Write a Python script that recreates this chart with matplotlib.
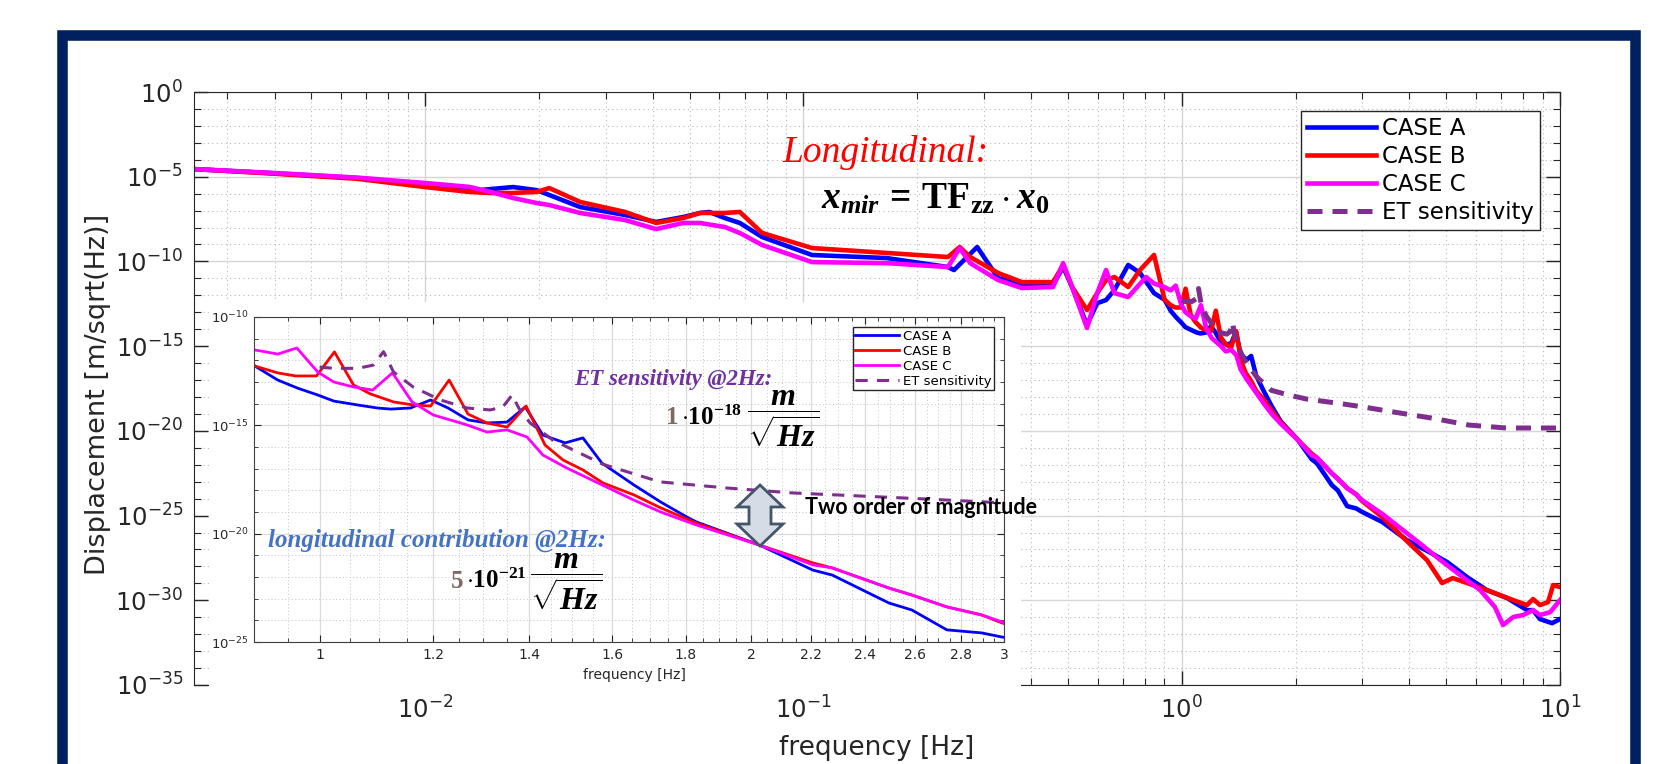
import numpy as np
import matplotlib
matplotlib.use('Agg')
import matplotlib.pyplot as plt
from matplotlib.patches import Rectangle, Polygon
from matplotlib.ticker import FixedLocator, FixedFormatter, NullFormatter

plt.rcParams['font.family'] = ['DejaVu Sans']
plt.rcParams['axes.unicode_minus'] = False
# формулы - жирный шрифт с засечками
plt.rcParams['mathtext.fontset'] = 'custom'
plt.rcParams['mathtext.rm'] = 'Liberation Serif:bold'
plt.rcParams['mathtext.it'] = 'Liberation Serif:italic:bold'
plt.rcParams['mathtext.bf'] = 'Liberation Serif:bold'

freq_a = [0.00245, 0.00385, 0.0066, 0.0100, 0.0131, 0.0149, 0.0171, 0.0197, 0.0213, 0.0257,
          0.0338, 0.0408, 0.0481, 0.0533, 0.0564, 0.0620, 0.0679, 0.0778, 0.1054, 0.166,
          0.241, 0.250, 0.288, 0.327, 0.378, 0.457, 0.486, 0.513, 0.562, 0.598,
          0.631, 0.664, 0.722, 0.776, 0.845, 0.901, 0.935, 0.965, 0.997, 1.023,
          1.063, 1.097, 1.121, 1.157, 1.195, 1.229, 1.269, 1.308, 1.351, 1.391,
          1.431, 1.483, 1.526, 1.573, 1.656, 1.729, 1.803, 1.831, 2.025, 2.207,
          2.277, 2.494, 2.587, 2.737, 2.894, 2.990, 3.39, 3.94, 4.56, 5.03,
          5.68, 6.41, 7.25, 8.18, 8.49, 8.85, 9.53, 10.0]
log_a = [-4.55, -4.78, -5.08, -5.45, -5.84, -5.73, -5.61, -5.79, -6.08, -6.79,
         -7.26, -7.67, -7.38, -7.14, -7.08, -7.44, -7.73, -8.56, -9.62, -9.80,
         -10.33, -10.51, -9.15, -10.98, -11.39, -11.39, -10.33, -11.50, -13.75, -12.46,
         -12.28, -11.69, -10.21, -10.68, -11.87, -12.26, -12.91, -13.28, -13.60, -13.88,
         -14.06, -14.20, -14.25, -14.20, -13.83, -14.20, -14.75, -14.89, -14.85, -14.15,
         -15.45, -15.81, -15.58, -16.74, -17.75, -18.54, -19.23, -19.46, -20.52, -21.68,
         -21.91, -23.20, -23.52, -24.44, -24.58, -24.77, -25.38, -26.45, -27.21, -27.74,
         -28.63, -29.40, -29.87, -30.58, -30.58, -31.11, -31.35, -31.11]

freq_b = [0.00245, 0.00385, 0.0066, 0.0100, 0.0131, 0.0149, 0.0171, 0.0197, 0.0213, 0.0257,
          0.0338, 0.0408, 0.0481, 0.0533, 0.0620, 0.0679, 0.0778, 0.1054, 0.166, 0.241,
          0.250, 0.259, 0.276, 0.327, 0.378, 0.457, 0.486, 0.513, 0.562, 0.598,
          0.631, 0.664, 0.722, 0.776, 0.845, 0.901, 0.935, 0.962, 0.995, 1.024,
          1.056, 1.085, 1.126, 1.162, 1.195, 1.231, 1.269, 1.308, 1.351, 1.393,
          1.436, 1.478, 1.526, 1.576, 1.656, 1.729, 1.831, 2.025, 2.207, 2.277,
          2.494, 2.587, 2.737, 2.894, 2.990, 3.39, 4.09, 4.45, 4.88, 5.21,
          5.68, 6.41, 7.52, 8.18, 8.49, 8.85, 9.30, 9.59, 10.0]
log_b = [-4.55, -4.80, -5.12, -5.61, -5.90, -5.96, -5.96, -5.90, -5.67, -6.49,
         -7.08, -7.73, -7.44, -7.14, -7.14, -7.08, -8.32, -9.21, -9.50, -9.74,
         -9.44, -9.15, -9.74, -10.68, -11.22, -11.22, -10.21, -11.50, -12.87, -11.87,
         -11.10, -10.92, -11.51, -10.51, -9.62, -12.26, -12.58, -12.72, -12.72, -11.61,
         -13.14, -13.55, -13.92, -14.06, -14.11, -12.91, -14.48, -14.89, -15.08, -14.11,
         -15.91, -16.60, -17.06, -17.66, -18.21, -18.81, -19.51, -20.52, -21.35, -21.58,
         -22.51, -22.83, -23.38, -23.75, -24.12, -25.09, -26.86, -27.63, -28.98, -28.69,
         -28.98, -29.40, -29.99, -30.28, -29.93, -30.28, -30.11, -29.10, -29.22]

freq_c = [0.00245, 0.00385, 0.0066, 0.0100, 0.0131, 0.0149, 0.0171, 0.0197, 0.0213, 0.0257,
          0.0338, 0.0408, 0.0481, 0.0533, 0.0620, 0.0679, 0.0778, 0.1054, 0.166, 0.241,
          0.259, 0.276, 0.327, 0.378, 0.457, 0.486, 0.513, 0.562, 0.598, 0.631,
          0.664, 0.722, 0.805, 0.845, 0.901, 0.935, 0.964, 0.997, 1.023, 1.056,
          1.089, 1.124, 1.160, 1.200, 1.267, 1.308, 1.351, 1.395, 1.431, 1.487,
          1.568, 1.656, 1.729, 1.831, 2.025, 2.207, 2.277, 2.494, 2.587, 2.737,
          2.894, 2.990, 3.39, 4.25, 4.94, 6.15, 6.73, 7.07, 7.52, 7.99,
          8.49, 8.85, 9.42, 10.0]
log_c = [-4.55, -4.76, -5.05, -5.37, -5.60, -5.90, -6.26, -6.55, -6.67, -7.14,
         -7.56, -8.09, -7.73, -7.73, -7.97, -8.32, -9.03, -10.04, -10.10, -10.33,
         -9.21, -10.10, -11.10, -11.57, -11.51, -10.10, -11.50, -13.93, -11.87, -10.51,
         -11.87, -12.10, -10.92, -11.30, -11.52, -11.71, -11.43, -12.54, -13.00, -13.23,
         -13.37, -12.58, -13.92, -14.52, -14.98, -15.31, -15.21, -15.54, -16.37, -16.97,
         -17.70, -18.45, -19.00, -19.60, -20.52, -21.44, -21.58, -22.51, -22.83, -23.38,
         -23.75, -24.07, -24.90, -26.62, -27.80, -29.40, -30.40, -31.46, -30.99, -30.87,
         -30.58, -30.87, -30.70, -29.99]

freq_et = [1.0, 1.023, 1.063, 1.09, 1.108, 1.126, 1.162, 1.214, 1.267, 1.315,
           1.342, 1.362, 1.379, 1.402, 1.454, 1.576, 1.727, 1.921, 2.136, 2.378,
           2.646, 3.0, 3.779, 4.563, 5.75, 7.2, 10.0]
log_et = [-12.31, -12.37, -12.37, -12.22, -11.60, -12.54, -13.23, -13.83, -14.20, -14.29,
          -14.15, -13.60, -14.29, -14.89, -15.68, -16.80, -17.61, -17.89, -18.12, -18.26,
          -18.40, -18.58, -18.95, -19.24, -19.66, -19.83, -19.83]

labels = ['CASE A', 'CASE B', 'CASE C', 'ET sensitivity']
colors = ['#0000FF', '#FF0000', '#FF00FF', '#7E2F8E']
series = [(freq_a, log_a), (freq_b, log_b), (freq_c, log_c), (freq_et, log_et)]

W, H = 1672, 764
def fx(x): return x / W          # пиксели -> доли фигуры
def fy(y): return 1 - y / H

fig = plt.figure(figsize=(W / 100, H / 100), dpi=100)

# Основной график
ax = fig.add_axes([fx(194), fy(685), fx(1560) - fx(194), fy(92) - fy(685)])
for (f, lg), c, lab in zip(series, colors, labels):
    if lab == 'ET sensitivity':
        ax.plot(f, 10.0 ** np.array(lg), color=c, lw=3.6, ls=(0, (3, 2.0)), label=lab)
    else:
        ax.plot(f, 10.0 ** np.array(lg), color=c, lw=3.3, label=lab)
ax.set_xscale('log')
ax.set_yscale('log')
ax.set_xlim(2.45e-3, 10)
ax.set_ylim(1e-35, 1)
ax.set_yticks(10.0 ** np.arange(-35, 1, 5))
ax.yaxis.set_minor_locator(FixedLocator(10.0 ** np.arange(-35, 1)))
ax.yaxis.set_minor_formatter(NullFormatter())
ax.grid(True, which='major', color='#d6d6d6', lw=1.0, ls='-')
ax.grid(True, which='minor', color='#b8b8b8', lw=0.8, ls=(0, (1, 3)))
ax.tick_params(which='both', direction='in', top=True, right=True, colors='#262626',
               labelsize=17.5, pad=8)
ax.tick_params(which='major', length=10, width=1)
ax.tick_params(which='minor', length=5, width=0.8)
for s in ax.spines.values():
    s.set_color('#262626')
ax.set_xlabel('frequency [Hz]', fontsize=19, color='#262626')
ax.set_ylabel('Displacement [m/sqrt(Hz)]', fontsize=19.5, color='#262626')
ax.xaxis.set_label_coords(0.5, -0.084)
ax.yaxis.set_label_coords(-0.061, 0.49)
ax.legend(loc='upper right', bbox_to_anchor=(fx(1540), fy(111)), bbox_transform=fig.transFigure,
          borderaxespad=0, fontsize=16.5, handlelength=3.0, handletextpad=0.3, labelspacing=0.22,
          borderpad=0.25, fancybox=False, framealpha=1, edgecolor='#262626')

# Белая подложка под вставкой (как вставленная картинка)
fig.add_artist(Rectangle((fx(209), fy(690)), fx(1021) - fx(209), fy(302) - fy(690),
                         transform=fig.transFigure, facecolor='white', edgecolor='none', zorder=1))

# Вставка 0.9 - 3 Hz
axin = fig.add_axes([fx(254), fy(642), fx(1004) - fx(254), fy(317) - fy(642)], zorder=2)
for (f, lg), c, lab in zip(series, colors, labels):
    if lab == 'ET sensitivity':
        axin.plot(f, 10.0 ** np.array(lg), color=c, lw=2.2, ls=(0, (4, 3)), label=lab)
    else:
        axin.plot(f, 10.0 ** np.array(lg), color=c, lw=2.0, label=lab)
axin.set_xscale('log')
axin.set_yscale('log')
axin.set_xlim(0.9, 3)
axin.set_ylim(1e-25, 1e-10)
xt = [1, 1.2, 1.4, 1.6, 1.8, 2, 2.2, 2.4, 2.6, 2.8, 3]
axin.xaxis.set_major_locator(FixedLocator(xt))
axin.xaxis.set_major_formatter(FixedFormatter([str(v) for v in xt]))
axin.xaxis.set_minor_locator(FixedLocator(np.arange(0.9, 3.0, 0.05)))
axin.xaxis.set_minor_formatter(NullFormatter())
axin.set_yticks(10.0 ** np.arange(-25, -9, 5))
axin.yaxis.set_minor_locator(FixedLocator(10.0 ** np.arange(-25, -9)))
axin.yaxis.set_minor_formatter(NullFormatter())
axin.grid(True, which='major', color='#dadada', lw=0.9, ls='-')
axin.grid(True, which='minor', color='#c4c4c4', lw=0.7, ls=(0, (1, 2.5)))
axin.tick_params(which='both', direction='in', top=True, right=True, colors='#262626', pad=4)
axin.tick_params(axis='x', labelsize=10)
axin.tick_params(axis='y', labelsize=9.5)
axin.tick_params(which='major', length=5)
axin.tick_params(which='minor', length=3)
for s in axin.spines.values():
    s.set_color('#404040')
axin.set_xlabel('frequency [Hz]', fontsize=10, color='#262626')
axin.xaxis.set_label_coords(0.507, -0.08)
axin.legend(loc='upper right', bbox_to_anchor=(fx(994), fy(327)), bbox_transform=fig.transFigure,
            borderaxespad=0, fontsize=9.5, handlelength=3.3, handletextpad=0.3, labelspacing=0.15,
            borderpad=0.2, fancybox=False, framealpha=1, edgecolor='#262626')

# Подписи
fig.text(fx(886), fy(152), 'Longitudinal:', color='#FF0000', fontsize=27, family='Liberation Serif',
         style='italic', ha='center', va='center')
fig.text(fx(935), fy(199), r'$x_{mir}\,=\,\mathrm{TF_{zz}}\cdot x_0$', fontsize=27,
         ha='center', va='center')

fig.text(fx(673), fy(380), 'ET sensitivity @2Hz:', color='#7030A0', fontsize=16.5,
         family='Liberation Serif', style='italic', weight='bold', ha='center', va='center', zorder=5)
fig.text(fx(672), fy(418), '1', color='#7F6866', fontsize=18, family='Liberation Serif',
         weight='bold', ha='center', va='center', zorder=5)
fig.text(fx(681), fy(418), r'$\cdot10^{-18}$', fontsize=18, ha='left', va='center', zorder=5)
fig.text(fx(783), fy(419), r'$\dfrac{m}{\sqrt{Hz}}$', fontsize=23, ha='center', va='center', zorder=5)

fig.text(fx(437), fy(540), 'longitudinal contribution @2Hz:', color='#4472C4', fontsize=18,
         family='Liberation Serif', style='italic', weight='bold', ha='center', va='center', zorder=5)
fig.text(fx(457), fy(581), '5', color='#7F6866', fontsize=18, family='Liberation Serif',
         weight='bold', ha='center', va='center', zorder=5)
fig.text(fx(466), fy(581), r'$\cdot10^{-21}$', fontsize=18, ha='left', va='center', zorder=5)
fig.text(fx(566), fy(582), r'$\dfrac{m}{\sqrt{Hz}}$', fontsize=23, ha='center', va='center', zorder=5)

fig.text(fx(805), fy(508), 'Two order of magnitude', family='Lato', weight='bold', fontsize=15.5,
         ha='left', va='center', zorder=5)

# Двойная стрелка
cx, top, bot, hw, sw, hl = 760, 485, 546, 23, 11, 22
pts = [(cx, top), (cx + hw, top + hl), (cx + sw, top + hl), (cx + sw, bot - hl), (cx + hw, bot - hl),
       (cx, bot), (cx - hw, bot - hl), (cx - sw, bot - hl), (cx - sw, top + hl), (cx - hw, top + hl)]
fig.add_artist(Polygon([(fx(x), fy(y)) for x, y in pts], closed=True, transform=fig.transFigure,
                       facecolor='#D6DCE5', edgecolor='#44546A', lw=2, zorder=5))

# Рамка слайда
fig.add_artist(Rectangle((fx(62), fy(820)), fx(1635) - fx(62), fy(34.5) - fy(820),
                         transform=fig.transFigure, fill=False, edgecolor='#002060', lw=7.6, zorder=10))

fig.savefig('out.png', dpi=100)
